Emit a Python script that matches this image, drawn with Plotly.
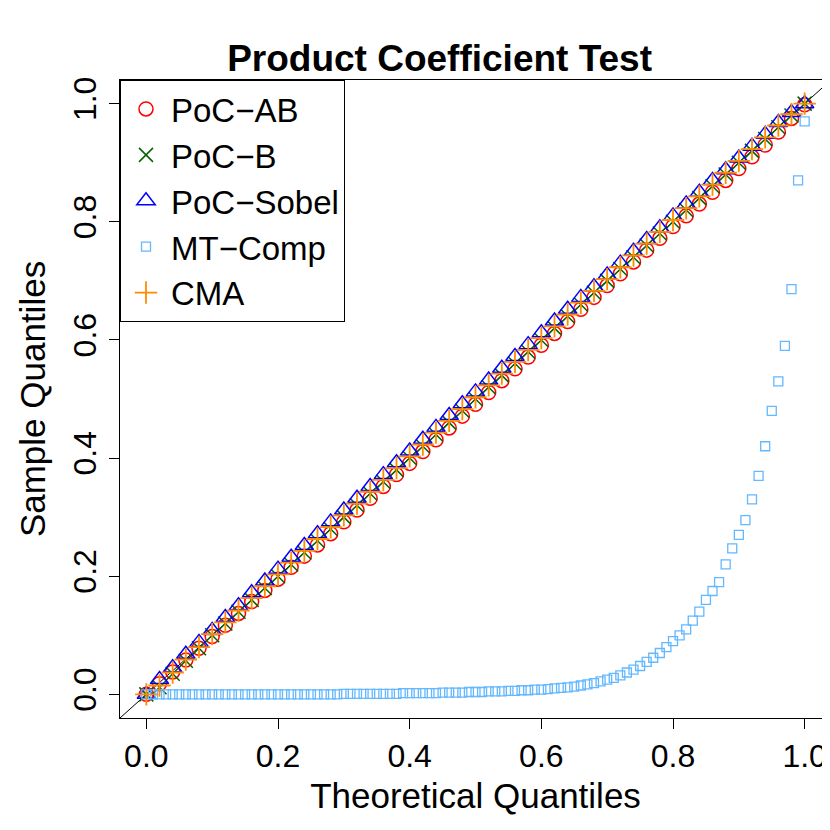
import plotly.graph_objects as go

x51 = [round(i * 0.02, 2) for i in range(51)]
x101 = [round(i * 0.01, 2) for i in range(101)]

poc_ab = [0,0.018,0.038,0.058,0.078,0.098,0.117,0.137,0.157,0.176,0.195,0.215,0.234,0.253,0.272,0.292,0.312,0.332,0.352,0.372,0.391,0.411,0.431,0.451,0.471,0.491,0.511,0.531,0.551,0.571,0.591,0.611,0.631,0.652,0.672,0.692,0.712,0.732,0.752,0.772,0.792,0.81,0.83,0.85,0.87,0.89,0.91,0.93,0.952,0.975,0.998]
poc_b = [0,0.012,0.035,0.057,0.078,0.1,0.12,0.14,0.16,0.18,0.2,0.22,0.24,0.26,0.28,0.3,0.32,0.34,0.36,0.38,0.4,0.42,0.44,0.46,0.48,0.5,0.52,0.54,0.56,0.58,0.6,0.62,0.64,0.66,0.68,0.7,0.72,0.74,0.76,0.78,0.8,0.82,0.84,0.86,0.88,0.9,0.92,0.94,0.96,0.98,1.0]
poc_sobel = [0,0.025,0.045,0.068,0.088,0.108,0.13,0.15,0.172,0.192,0.212,0.232,0.252,0.272,0.292,0.312,0.332,0.352,0.372,0.392,0.412,0.432,0.452,0.472,0.492,0.512,0.532,0.552,0.572,0.592,0.612,0.632,0.652,0.672,0.69,0.71,0.73,0.75,0.77,0.79,0.81,0.83,0.85,0.87,0.888,0.908,0.928,0.948,0.968,0.985,1.0]
cma = [0,0.015,0.037,0.059,0.08,0.102,0.122,0.142,0.163,0.183,0.203,0.223,0.243,0.263,0.283,0.303,0.323,0.343,0.363,0.383,0.403,0.423,0.443,0.463,0.483,0.503,0.523,0.543,0.563,0.583,0.603,0.623,0.643,0.663,0.683,0.703,0.723,0.743,0.763,0.783,0.803,0.823,0.843,0.863,0.883,0.903,0.923,0.943,0.963,0.982,1.0]
mt_comp = [0,0,0,0,0,0,0,0,0,0,
           0,0,0,0,0,0,0,0,0,0,
           0,0,0,0,0,0,0,0,0,0,
           0.001,0.001,0.001,0.001,0.001,0.001,0.001,0.001,0.001,0.002,
           0.002,0.002,0.002,0.002,0.002,0.003,0.003,0.003,0.003,0.004,
           0.004,0.004,0.005,0.005,0.005,0.006,0.006,0.007,0.007,0.008,
           0.008,0.009,0.010,0.011,0.012,0.013,0.015,0.017,0.019,0.022,
           0.025,0.028,0.032,0.037,0.042,0.048,0.055,0.062,0.07,0.08,
           0.09,0.10,0.11,0.125,0.14,0.16,0.175,0.19,0.22,0.247,
           0.27,0.295,0.33,0.37,0.42,0.48,0.53,0.59,0.686,0.87,0.97]

fig = go.Figure()
fig.add_trace(go.Scatter(x=[-0.04, 1.04], y=[-0.04, 1.04], mode="lines",
                         line=dict(color="black", width=1), showlegend=False, hoverinfo="skip"))
sz = 14
fig.add_trace(go.Scatter(x=x51, y=poc_ab, mode="markers", name="PoC−AB",
                         marker=dict(symbol="circle-open", color="red", size=sz, line=dict(width=1.5))))
fig.add_trace(go.Scatter(x=x51, y=poc_b, mode="markers", name="PoC−B",
                         marker=dict(symbol="x-thin-open", color="darkgreen", size=sz, line=dict(width=1.5, color="darkgreen"))))
fig.add_trace(go.Scatter(x=x51, y=poc_sobel, mode="markers", name="PoC−Sobel",
                         marker=dict(symbol="triangle-up-open", color="blue", size=sz + 2, line=dict(width=1.5))))
fig.add_trace(go.Scatter(x=x101, y=mt_comp, mode="markers", name="MT−Comp",
                         marker=dict(symbol="square-open", color="#63B8FF", size=9, line=dict(width=1.3))))
fig.add_trace(go.Scatter(x=x51, y=cma, mode="markers", name="CMA",
                         marker=dict(symbol="cross-thin-open", color="darkorange", size=sz + 2, line=dict(width=1.8, color="darkorange"))))

ax = dict(range=[-0.04, 1.04], showgrid=False, zeroline=False, showline=True, mirror=True,
          linecolor="black", linewidth=1, ticks="outside", ticklen=10, tickcolor="black",
          tickvals=[0, 0.2, 0.4, 0.6, 0.8, 1.0], ticktext=["0.0", "0.2", "0.4", "0.6", "0.8", "1.0"],
          tickfont=dict(size=32, color="black"), automargin=False)
fig.update_layout(
    width=830, height=830, plot_bgcolor="white", paper_bgcolor="white",
    font=dict(family="Liberation Sans, Arial", color="black"),
    margin=dict(l=112, r=7, t=72, b=120),
    title=dict(text="<b>Product Coefficient Test</b>", x=0.52, xanchor="center", y=0.955, font=dict(size=37)),
    xaxis=dict(ax, title=dict(text="Theoretical Quantiles", font=dict(size=35), standoff=10)),
    yaxis=dict(ax, tickangle=-90, title=dict(text="Sample Quantiles", font=dict(size=35), standoff=10)),
    legend=dict(x=0, y=1, xanchor="left", yanchor="top", bordercolor="black", borderwidth=1,
                bgcolor="white", font=dict(size=33), itemsizing="trace", tracegroupgap=8,
                itemwidth=40),
)
fig.write_html("out.html")
